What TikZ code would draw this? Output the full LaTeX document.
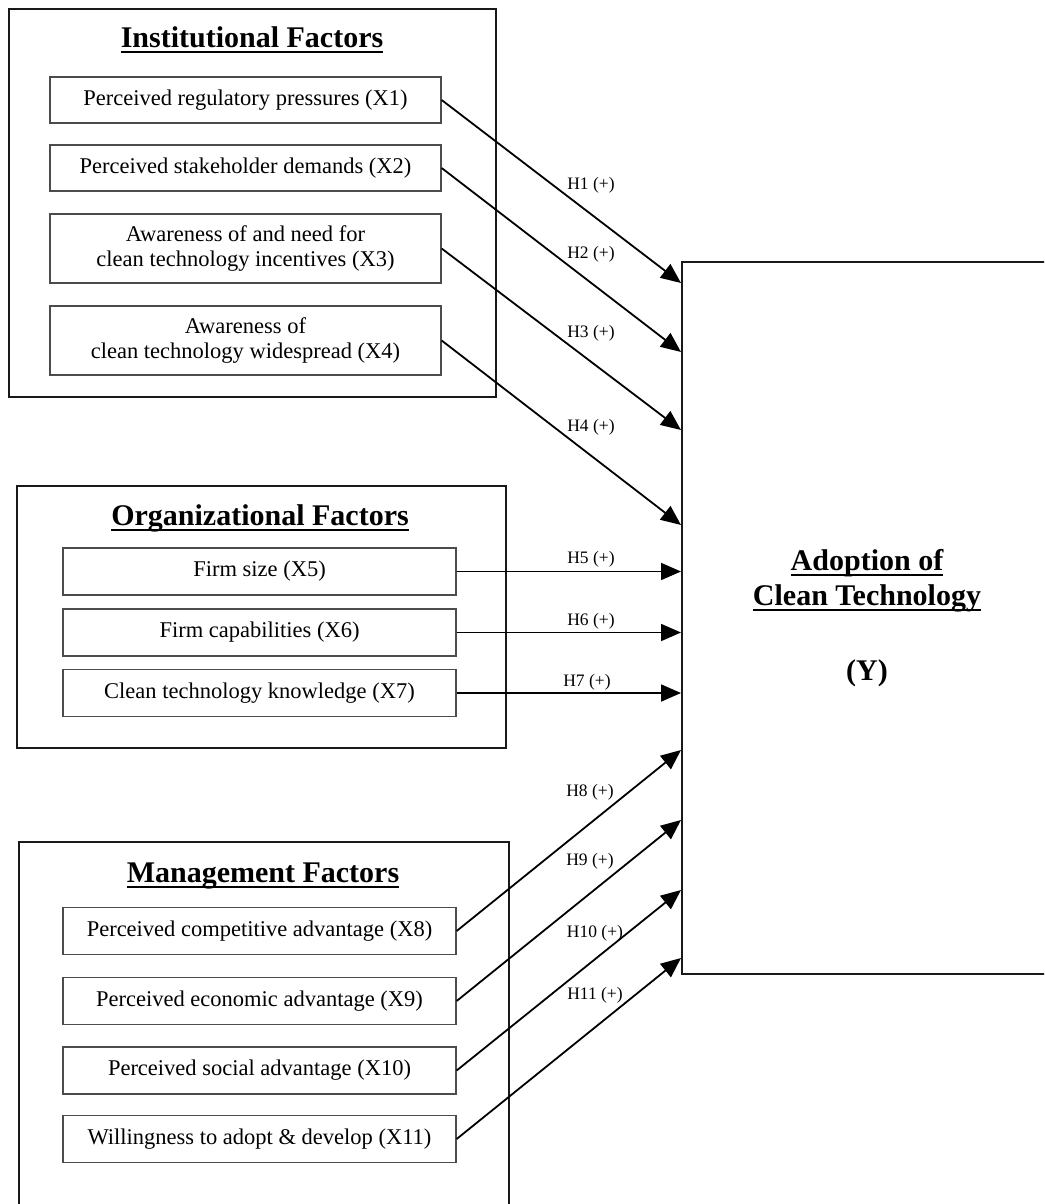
\documentclass[tikz,border=0pt]{standalone}
\usepackage{fontspec}
\setmainfont{Liberation Serif}
\usetikzlibrary{arrows.meta}
\begin{document}
\begin{tikzpicture}[x=1pt,y=-1pt,
  group/.style={draw=black!90, line width=2pt, anchor=north west, inner sep=0pt},
  item/.style={draw=black!70, line width=1.3pt, minimum width=391pt, minimum height=46pt, inner sep=0pt, align=center, font=\fontsize{22.5}{25}\selectfont},
  grouptitle/.style={anchor=base, inner sep=0pt, font=\fontsize{30}{34}\selectfont\bfseries},
  ulline/.style={line width=2pt},
  hyp/.style={inner sep=0pt, font=\fontsize{17.5}{19}\selectfont},
  link/.style={line width=1.8pt, -{Triangle[length=20pt,width=17pt]}}
]
\useasboundingbox (0,0) rectangle (1044,1204);
\fill[white] (0,0) rectangle (1044,1204);
\clip (0,0) rectangle (1044,1204);

% groups
\node[group, minimum width=487pt, minimum height=388pt] (inst) at (8,8) {};
\node[group, minimum width=489pt, minimum height=262pt] (org) at (16,485) {};
\node[group, minimum width=490pt, minimum height=420pt] (mgmt) at (18,841) {};
\node[group, minimum width=372pt, minimum height=712pt] (adopt) at (681,261) {};

% titles
\node[grouptitle] (tinst) at (252,48) {Institutional Factors};
\node[grouptitle] (torg) at (260,525) {Organizational Factors};
\node[grouptitle] (tmgmt) at (263,882) {Management Factors};
\node[grouptitle] (ya) at (867,570) {Adoption of};
\node[grouptitle] (yb) at (867,605) {Clean Technology};
\node[grouptitle] (yc) at (867,680) {(Y)};
\foreach \t in {tinst,torg,tmgmt,ya,yb}
  \draw[ulline] ([yshift=-4.5pt]\t.base west) -- ([yshift=-4.5pt]\t.base east);

% institutional items
\node[item] (x1) at (245.5,100) {Perceived regulatory pressures (X1)};
\node[item] (x2) at (245.5,168) {Perceived stakeholder demands (X2)};
\node[item, minimum height=69pt] (x3) at (245.5,248.5) {Awareness of and need for\\clean technology incentives (X3)};
\node[item, minimum height=69pt] (x4) at (245.5,340.5) {Awareness of\\clean technology widespread (X4)};

% organizational items
\node[item, minimum width=393pt, minimum height=47pt] (x5) at (259.5,571.5) {Firm size (X5)};
\node[item, minimum width=393pt, minimum height=47pt] (x6) at (259.5,632.5) {Firm capabilities (X6)};
\node[item, minimum width=393pt, minimum height=47pt] (x7) at (259.5,693) {Clean technology knowledge (X7)};

% management items
\node[item, minimum width=393pt, minimum height=47pt] (x8) at (259.5,931) {Perceived competitive advantage (X8)};
\node[item, minimum width=393pt, minimum height=47pt] (x9) at (259.5,1001) {Perceived economic advantage (X9)};
\node[item, minimum width=393pt, minimum height=47pt] (x10) at (259.5,1070.5) {Perceived social advantage (X10)};
\node[item, minimum width=393pt, minimum height=47pt] (x11) at (259.5,1139) {Willingness to adopt \& develop (X11)};

% arrow end points on the adoption box
\coordinate (e1) at (681,283);
\coordinate (e2) at (681,352);
\coordinate (e3) at (681,430);
\coordinate (e4) at (681,525);
\coordinate (e5) at (681,571.5);
\coordinate (e6) at (681,632.5);
\coordinate (e7) at (681,693);
\coordinate (e8) at (681,750);
\coordinate (e9) at (681,820);
\coordinate (e10) at (681,890);
\coordinate (e11) at (681,958);

\draw[link] (x1.east) -- (e1);
\draw[link] (x2.east) -- (e2);
\draw[link] (x3.east) -- (e3);
\draw[link] (x4.east) -- (e4);
\draw[link] (x5.east) -- (e5);
\draw[link] (x6.east) -- (e6);
\draw[link] (x7.east) -- (e7);
\draw[link] (x8.east) -- (e8);
\draw[link] (x9.east) -- (e9);
\draw[link] (x10.east) -- (e10);
\draw[link] (x11.east) -- (e11);

% hypothesis labels
\node[hyp] (h1) at (591,185) {H1 (+)};
\node[hyp] (h2) at (591,254) {H2 (+)};
\node[hyp] (h3) at (591,333) {H3 (+)};
\node[hyp] (h4) at (591,427) {H4 (+)};
\node[hyp] (h5) at (591,559) {H5 (+)};
\node[hyp] (h6) at (591,621) {H6 (+)};
\node[hyp] (h7) at (587,682) {H7 (+)};
\node[hyp] (h8) at (590,792) {H8 (+)};
\node[hyp] (h9) at (590,861) {H9 (+)};
\node[hyp] (h10) at (595,933) {H10 (+)};
\node[hyp] (h11) at (595,995) {H11 (+)};
\end{tikzpicture}
\end{document}
